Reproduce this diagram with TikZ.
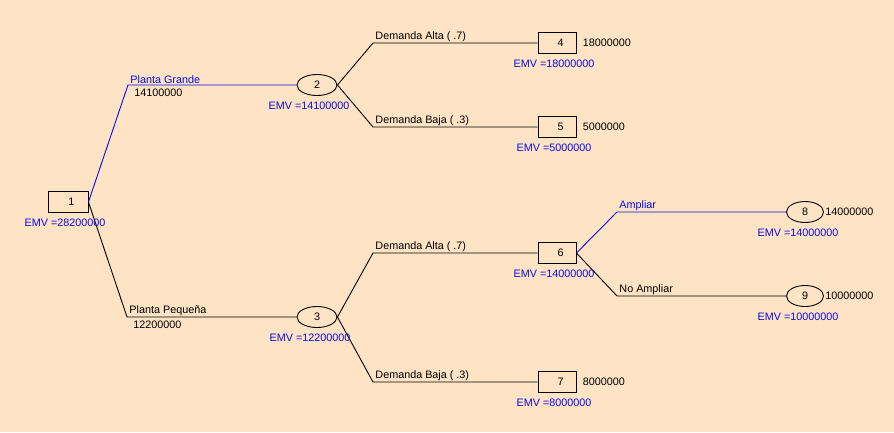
\documentclass[tikz,border=0pt]{standalone}
\usepackage{fontspec}
\setmainfont{Liberation Sans}
\usetikzlibrary{shapes.geometric,positioning}
\definecolor{bg}{RGB}{254,228,196}
\definecolor{emvblue}{RGB}{10,10,230}

\begin{document}
\begin{tikzpicture}[x=1pt,y=-1pt,line width=0.9pt,node distance=5pt,
    font=\fontsize{10.8}{12}\selectfont,
    decision/.style={draw,rectangle,minimum width=38pt,minimum height=21pt,inner sep=0pt,execute at begin node={\hspace*{7pt}}},
    chance/.style={draw,ellipse,minimum width=40pt,minimum height=21pt,inner sep=0pt},
    emv/.style={text=emvblue,inner sep=1pt},
    payoff/.style={inner sep=1pt},
    lab/.style={anchor=south west,inner sep=1pt,xshift=1pt},
    val/.style={anchor=north west,inner sep=1pt,xshift=5pt,yshift=-2.5pt},
    best/.style={draw=emvblue}]
      \fill[bg] (0,0) rectangle (894,432);

      \node[decision,minimum width=40pt] (n1) at (68,202)  {1};
      \node[chance]                      (n2) at (317,85)  {2};
      \node[chance]                      (n3) at (317,317) {3};
      \node[decision]                    (n4) at (557,43)  {4};
      \node[decision]                    (n5) at (557,127) {5};
      \node[decision]                    (n6) at (557,253) {6};
      \node[decision]                    (n7) at (557,382) {7};
      \node[chance,minimum width=37pt]   (n8) at (805,212) {8};
      \node[chance,minimum width=37pt]   (n9) at (805,296) {9};

      \coordinate (pg) at (128,85);
      \coordinate (pp) at (127,317);
      \coordinate (a2) at (373,43);
      \coordinate (b2) at (373,127);
      \coordinate (a3) at (373,253);
      \coordinate (b3) at (373,382);
      \coordinate (am) at (617,212);
      \coordinate (nm) at (617,296);

      \draw[best] (n1.east) -- (pg) node[lab,text=emvblue] {Planta Grande} node[val] {14100000} -- (n2);
      \draw (n1.east) -- (pp) node[lab] {Planta Pequeña} node[val] {12200000} -- (n3);
      \draw (n2.east) -- (a2) node[lab] {Demanda Alta ( .7)} -- (n4);
      \draw (n2.east) -- (b2) node[lab] {Demanda Baja ( .3)} -- (n5);
      \draw (n3.east) -- (a3) node[lab] {Demanda Alta ( .7)} -- (n6);
      \draw (n3.east) -- (b3) node[lab] {Demanda Baja ( .3)} -- (n7);
      \draw[best] (n6.east) -- (am) node[lab,text=emvblue] {Ampliar} -- (n8);
      \draw (n6.east) -- (nm) node[lab] {No Ampliar} -- (n9);

      \node[emv,below=of n1,xshift=-3pt] (e1) {EMV =28200000};
      \node[emv,below=of n2,xshift=-8pt] (e2) {EMV =14100000};
      \node[emv,below=of n3,xshift=-7pt] (e3) {EMV =12200000};
      \node[emv,below=of n4,xshift=-3pt] (e4) {EMV =18000000};
      \node[emv,below=of n5,xshift=-3pt] (e5) {EMV =5000000};
      \node[emv,below=of n6,xshift=-3pt] (e6) {EMV =14000000};
      \node[emv,below=of n7,xshift=-3pt] (e7) {EMV =8000000};
      \node[emv,below=of n8,xshift=-7pt] (e8) {EMV =14000000};
      \node[emv,below=of n9,xshift=-7pt] (e9) {EMV =10000000};

      \node[payoff,right=5pt of n4] (p4) {18000000};
      \node[payoff,right=5pt of n5] (p5) {5000000};
      \node[payoff,right=5pt of n7] (p7) {8000000};
      \node[payoff,right=0pt of n8] (p8) {14000000};
      \node[payoff,right=0pt of n9] (p9) {10000000};
\end{tikzpicture}
\end{document}
